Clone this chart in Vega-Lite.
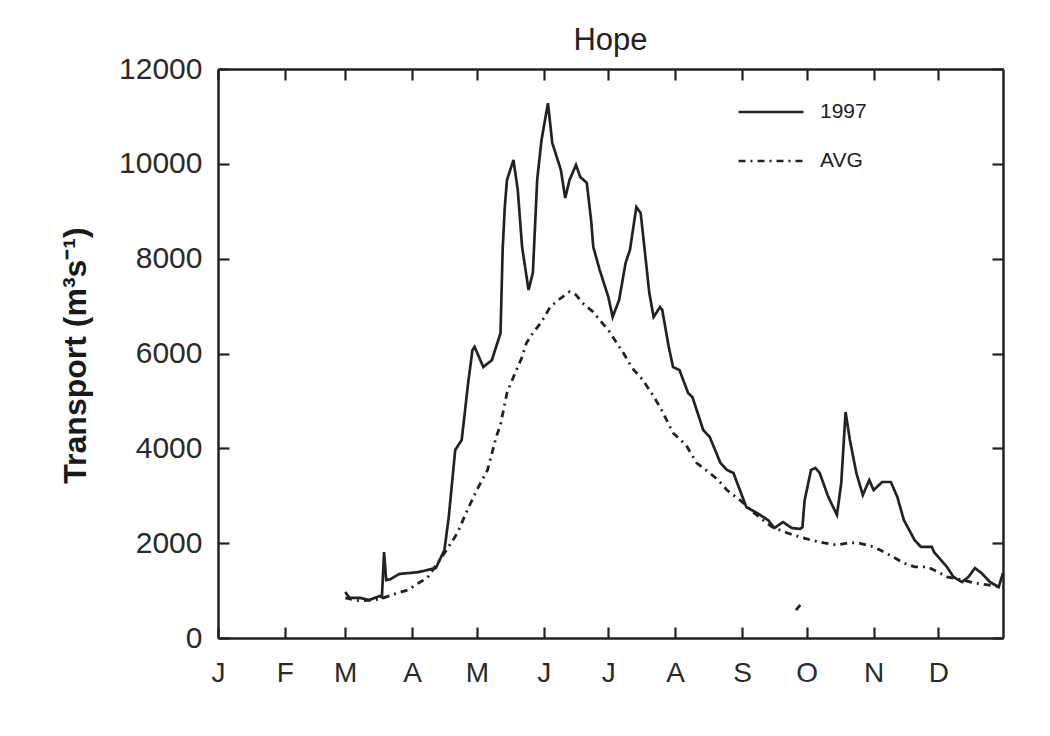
{
  "$schema": "https://vega.github.io/schema/vega-lite/v6.json",
  "autosize": {"type": "none"},
  "padding": {"left": 218, "top": 69, "right": 47, "bottom": 98},
  "width": 785,
  "height": 569,
  "background": "white",
  "title": {
    "text": "Hope",
    "fontSize": 31,
    "fontWeight": "normal",
    "font": "Liberation Sans",
    "color": "#222222",
    "anchor": "middle",
    "offset": -3
  },
  "data": {
    "values": [
      {"series": "1997", "seg": "a", "date": "1997/03/01", "q": 970},
      {"series": "1997", "seg": "a", "date": "1997/03/03", "q": 845},
      {"series": "1997", "seg": "a", "date": "1997/03/08", "q": 845},
      {"series": "1997", "seg": "a", "date": "1997/03/12", "q": 800},
      {"series": "1997", "seg": "a", "date": "1997/03/17", "q": 885},
      {"series": "1997", "seg": "a", "date": "1997/03/18", "q": 860},
      {"series": "1997", "seg": "a", "date": "1997/03/19", "q": 1810},
      {"series": "1997", "seg": "a", "date": "1997/03/20", "q": 1220},
      {"series": "1997", "seg": "a", "date": "1997/03/22", "q": 1240},
      {"series": "1997", "seg": "a", "date": "1997/03/26", "q": 1350},
      {"series": "1997", "seg": "a", "date": "1997/04/04", "q": 1390},
      {"series": "1997", "seg": "a", "date": "1997/04/12", "q": 1475},
      {"series": "1997", "seg": "a", "date": "1997/04/16", "q": 1855},
      {"series": "1997", "seg": "a", "date": "1997/04/18", "q": 2550},
      {"series": "1997", "seg": "a", "date": "1997/04/21", "q": 3965},
      {"series": "1997", "seg": "a", "date": "1997/04/24", "q": 4175},
      {"series": "1997", "seg": "a", "date": "1997/04/27", "q": 5380},
      {"series": "1997", "seg": "a", "date": "1997/04/29", "q": 6075},
      {"series": "1997", "seg": "a", "date": "1997/04/30", "q": 6140},
      {"series": "1997", "seg": "a", "date": "1997/05/04", "q": 5715},
      {"series": "1997", "seg": "a", "date": "1997/05/08", "q": 5860},
      {"series": "1997", "seg": "a", "date": "1997/05/12", "q": 6430},
      {"series": "1997", "seg": "a", "date": "1997/05/13", "q": 8200},
      {"series": "1997", "seg": "a", "date": "1997/05/14", "q": 9100},
      {"series": "1997", "seg": "a", "date": "1997/05/15", "q": 9660},
      {"series": "1997", "seg": "a", "date": "1997/05/18", "q": 10080},
      {"series": "1997", "seg": "a", "date": "1997/05/20", "q": 9450},
      {"series": "1997", "seg": "a", "date": "1997/05/22", "q": 8250},
      {"series": "1997", "seg": "a", "date": "1997/05/25", "q": 7340},
      {"series": "1997", "seg": "a", "date": "1997/05/27", "q": 7700},
      {"series": "1997", "seg": "a", "date": "1997/05/29", "q": 9660},
      {"series": "1997", "seg": "a", "date": "1997/05/31", "q": 10500},
      {"series": "1997", "seg": "a", "date": "1997/06/03", "q": 11280},
      {"series": "1997", "seg": "a", "date": "1997/06/05", "q": 10440},
      {"series": "1997", "seg": "a", "date": "1997/06/09", "q": 9870},
      {"series": "1997", "seg": "a", "date": "1997/06/11", "q": 9280},
      {"series": "1997", "seg": "a", "date": "1997/06/13", "q": 9660},
      {"series": "1997", "seg": "a", "date": "1997/06/16", "q": 9975},
      {"series": "1997", "seg": "a", "date": "1997/06/18", "q": 9720},
      {"series": "1997", "seg": "a", "date": "1997/06/21", "q": 9600},
      {"series": "1997", "seg": "a", "date": "1997/06/23", "q": 8815},
      {"series": "1997", "seg": "a", "date": "1997/06/24", "q": 8250},
      {"series": "1997", "seg": "a", "date": "1997/06/27", "q": 7760},
      {"series": "1997", "seg": "a", "date": "1997/07/01", "q": 7190},
      {"series": "1997", "seg": "a", "date": "1997/07/03", "q": 6770},
      {"series": "1997", "seg": "a", "date": "1997/07/06", "q": 7130},
      {"series": "1997", "seg": "a", "date": "1997/07/09", "q": 7910},
      {"series": "1997", "seg": "a", "date": "1997/07/11", "q": 8180},
      {"series": "1997", "seg": "a", "date": "1997/07/14", "q": 9090},
      {"series": "1997", "seg": "a", "date": "1997/07/16", "q": 8960},
      {"series": "1997", "seg": "a", "date": "1997/07/18", "q": 8120},
      {"series": "1997", "seg": "a", "date": "1997/07/20", "q": 7275},
      {"series": "1997", "seg": "a", "date": "1997/07/22", "q": 6770},
      {"series": "1997", "seg": "a", "date": "1997/07/25", "q": 6980},
      {"series": "1997", "seg": "a", "date": "1997/07/26", "q": 6920},
      {"series": "1997", "seg": "a", "date": "1997/07/29", "q": 6140},
      {"series": "1997", "seg": "a", "date": "1997/07/31", "q": 5715},
      {"series": "1997", "seg": "a", "date": "1997/08/03", "q": 5650},
      {"series": "1997", "seg": "a", "date": "1997/08/07", "q": 5165},
      {"series": "1997", "seg": "a", "date": "1997/08/09", "q": 5080},
      {"series": "1997", "seg": "a", "date": "1997/08/14", "q": 4385},
      {"series": "1997", "seg": "a", "date": "1997/08/17", "q": 4240},
      {"series": "1997", "seg": "a", "date": "1997/08/22", "q": 3690},
      {"series": "1997", "seg": "a", "date": "1997/08/25", "q": 3545},
      {"series": "1997", "seg": "a", "date": "1997/08/28", "q": 3480},
      {"series": "1997", "seg": "a", "date": "1997/08/31", "q": 3120},
      {"series": "1997", "seg": "a", "date": "1997/09/03", "q": 2760},
      {"series": "1997", "seg": "a", "date": "1997/09/08", "q": 2635},
      {"series": "1997", "seg": "a", "date": "1997/09/13", "q": 2490},
      {"series": "1997", "seg": "a", "date": "1997/09/16", "q": 2320},
      {"series": "1997", "seg": "a", "date": "1997/09/20", "q": 2445},
      {"series": "1997", "seg": "a", "date": "1997/09/24", "q": 2320},
      {"series": "1997", "seg": "a", "date": "1997/09/28", "q": 2300},
      {"series": "1997", "seg": "a", "date": "1997/09/29", "q": 2340},
      {"series": "1997", "seg": "a", "date": "1997/09/30", "q": 2900},
      {"series": "1997", "seg": "a", "date": "1997/10/03", "q": 3545},
      {"series": "1997", "seg": "a", "date": "1997/10/05", "q": 3585},
      {"series": "1997", "seg": "a", "date": "1997/10/07", "q": 3480},
      {"series": "1997", "seg": "a", "date": "1997/10/11", "q": 2975},
      {"series": "1997", "seg": "a", "date": "1997/10/15", "q": 2595},
      {"series": "1997", "seg": "a", "date": "1997/10/17", "q": 3270},
      {"series": "1997", "seg": "a", "date": "1997/10/19", "q": 4765},
      {"series": "1997", "seg": "a", "date": "1997/10/21", "q": 4175},
      {"series": "1997", "seg": "a", "date": "1997/10/24", "q": 3480},
      {"series": "1997", "seg": "a", "date": "1997/10/27", "q": 3015},
      {"series": "1997", "seg": "a", "date": "1997/10/30", "q": 3330},
      {"series": "1997", "seg": "a", "date": "1997/11/01", "q": 3120},
      {"series": "1997", "seg": "a", "date": "1997/11/05", "q": 3290},
      {"series": "1997", "seg": "a", "date": "1997/11/09", "q": 3290},
      {"series": "1997", "seg": "a", "date": "1997/11/12", "q": 2975},
      {"series": "1997", "seg": "a", "date": "1997/11/15", "q": 2490},
      {"series": "1997", "seg": "a", "date": "1997/11/20", "q": 2065},
      {"series": "1997", "seg": "a", "date": "1997/11/23", "q": 1920},
      {"series": "1997", "seg": "a", "date": "1997/11/28", "q": 1920},
      {"series": "1997", "seg": "a", "date": "1997/11/29", "q": 1815},
      {"series": "1997", "seg": "a", "date": "1997/12/05", "q": 1500},
      {"series": "1997", "seg": "a", "date": "1997/12/08", "q": 1290},
      {"series": "1997", "seg": "a", "date": "1997/12/12", "q": 1180},
      {"series": "1997", "seg": "a", "date": "1997/12/15", "q": 1290},
      {"series": "1997", "seg": "a", "date": "1997/12/18", "q": 1475},
      {"series": "1997", "seg": "a", "date": "1997/12/21", "q": 1370},
      {"series": "1997", "seg": "a", "date": "1997/12/25", "q": 1180},
      {"series": "1997", "seg": "a", "date": "1997/12/29", "q": 1075},
      {"series": "1997", "seg": "a", "date": "1997/12/31", "q": 1370},

      {"series": "AVG", "seg": "a", "date": "1997/03/01", "q": 845},
      {"series": "AVG", "seg": "a", "date": "1997/03/08", "q": 780},
      {"series": "AVG", "seg": "a", "date": "1997/03/17", "q": 820},
      {"series": "AVG", "seg": "a", "date": "1997/03/24", "q": 930},
      {"series": "AVG", "seg": "a", "date": "1997/03/30", "q": 1010},
      {"series": "AVG", "seg": "a", "date": "1997/04/04", "q": 1160},
      {"series": "AVG", "seg": "a", "date": "1997/04/08", "q": 1265},
      {"series": "AVG", "seg": "a", "date": "1997/04/17", "q": 1855},
      {"series": "AVG", "seg": "a", "date": "1997/04/22", "q": 2215},
      {"series": "AVG", "seg": "a", "date": "1997/04/26", "q": 2635},
      {"series": "AVG", "seg": "a", "date": "1997/05/01", "q": 3120},
      {"series": "AVG", "seg": "a", "date": "1997/05/06", "q": 3545},
      {"series": "AVG", "seg": "a", "date": "1997/05/10", "q": 4240},
      {"series": "AVG", "seg": "a", "date": "1997/05/12", "q": 4500},
      {"series": "AVG", "seg": "a", "date": "1997/05/15", "q": 5170},
      {"series": "AVG", "seg": "a", "date": "1997/05/18", "q": 5505},
      {"series": "AVG", "seg": "a", "date": "1997/05/22", "q": 5925},
      {"series": "AVG", "seg": "a", "date": "1997/05/24", "q": 6220},
      {"series": "AVG", "seg": "a", "date": "1997/05/27", "q": 6430},
      {"series": "AVG", "seg": "a", "date": "1997/05/31", "q": 6665},
      {"series": "AVG", "seg": "a", "date": "1997/06/04", "q": 6980},
      {"series": "AVG", "seg": "a", "date": "1997/06/09", "q": 7170},
      {"series": "AVG", "seg": "a", "date": "1997/06/13", "q": 7300},
      {"series": "AVG", "seg": "a", "date": "1997/06/16", "q": 7235},
      {"series": "AVG", "seg": "a", "date": "1997/06/19", "q": 7065},
      {"series": "AVG", "seg": "a", "date": "1997/06/24", "q": 6875},
      {"series": "AVG", "seg": "a", "date": "1997/06/27", "q": 6705},
      {"series": "AVG", "seg": "a", "date": "1997/07/01", "q": 6495},
      {"series": "AVG", "seg": "a", "date": "1997/07/04", "q": 6285},
      {"series": "AVG", "seg": "a", "date": "1997/07/08", "q": 6010},
      {"series": "AVG", "seg": "a", "date": "1997/07/12", "q": 5695},
      {"series": "AVG", "seg": "a", "date": "1997/07/17", "q": 5440},
      {"series": "AVG", "seg": "a", "date": "1997/07/21", "q": 5165},
      {"series": "AVG", "seg": "a", "date": "1997/07/25", "q": 4870},
      {"series": "AVG", "seg": "a", "date": "1997/07/28", "q": 4600},
      {"series": "AVG", "seg": "a", "date": "1997/07/31", "q": 4325},
      {"series": "AVG", "seg": "a", "date": "1997/08/06", "q": 4070},
      {"series": "AVG", "seg": "a", "date": "1997/08/11", "q": 3690},
      {"series": "AVG", "seg": "a", "date": "1997/08/17", "q": 3480},
      {"series": "AVG", "seg": "a", "date": "1997/08/21", "q": 3330},
      {"series": "AVG", "seg": "a", "date": "1997/08/25", "q": 3120},
      {"series": "AVG", "seg": "a", "date": "1997/08/31", "q": 2910},
      {"series": "AVG", "seg": "a", "date": "1997/09/05", "q": 2700},
      {"series": "AVG", "seg": "a", "date": "1997/09/09", "q": 2550},
      {"series": "AVG", "seg": "a", "date": "1997/09/15", "q": 2340},
      {"series": "AVG", "seg": "a", "date": "1997/09/22", "q": 2215},
      {"series": "AVG", "seg": "a", "date": "1997/09/28", "q": 2130},
      {"series": "AVG", "seg": "a", "date": "1997/10/03", "q": 2065},
      {"series": "AVG", "seg": "a", "date": "1997/10/09", "q": 2005},
      {"series": "AVG", "seg": "a", "date": "1997/10/15", "q": 1960},
      {"series": "AVG", "seg": "a", "date": "1997/10/20", "q": 2005},
      {"series": "AVG", "seg": "a", "date": "1997/10/25", "q": 2005},
      {"series": "AVG", "seg": "a", "date": "1997/11/01", "q": 1920},
      {"series": "AVG", "seg": "a", "date": "1997/11/04", "q": 1855},
      {"series": "AVG", "seg": "a", "date": "1997/11/10", "q": 1710},
      {"series": "AVG", "seg": "a", "date": "1997/11/15", "q": 1580},
      {"series": "AVG", "seg": "a", "date": "1997/11/20", "q": 1500},
      {"series": "AVG", "seg": "a", "date": "1997/11/26", "q": 1500},
      {"series": "AVG", "seg": "a", "date": "1997/12/01", "q": 1390},
      {"series": "AVG", "seg": "a", "date": "1997/12/05", "q": 1290},
      {"series": "AVG", "seg": "a", "date": "1997/12/12", "q": 1225},
      {"series": "AVG", "seg": "a", "date": "1997/12/18", "q": 1160},
      {"series": "AVG", "seg": "a", "date": "1997/12/24", "q": 1120},
      {"series": "AVG", "seg": "a", "date": "1997/12/31", "q": 1075},

      {"series": "AVG", "seg": "b", "date": "1997/09/26", "q": 590},
      {"series": "AVG", "seg": "b", "date": "1997/09/28", "q": 700}
    ]
  },
  "encoding": {
    "x": {
      "field": "date",
      "type": "temporal",
      "scale": {"domain": [{"year": 1997, "month": 1, "date": 1}, {"year": 1997, "month": 12, "date": 31}]},
      "title": null
    },
    "y": {
      "field": "q",
      "type": "quantitative",
      "scale": {"domain": [0, 12000], "nice": false},
      "title": "Transport (m³s⁻¹)"
    },
    "strokeDash": {
      "field": "series",
      "type": "nominal",
      "scale": {"domain": ["1997", "AVG"], "range": [[1, 0], [7, 5, 2, 5]]},
      "legend": {
        "title": null,
        "orient": "none",
        "legendX": 519,
        "legendY": 28,
        "symbolType": "stroke",
        "symbolSize": 4225,
        "symbolStrokeWidth": 2.5,
        "symbolStrokeColor": "#222222",
        "labelFontSize": 21,
        "labelFont": "Liberation Sans",
        "labelColor": "#222222",
        "labelOffset": 15,
        "rowPadding": 19,
        "clipHeight": 30
      }
    },
    "detail": {"field": "seg"}
  },
  "layer": [
    {
      "transform": [{"filter": "datum.series === '1997'"}],
      "mark": {"type": "line", "color": "#222222", "strokeWidth": 2.7},
      "encoding": {
        "x": {
          "field": "date",
          "type": "temporal",
          "title": null,
          "axis": {
            "orient": "bottom",
            "tickCount": {"interval": "month", "step": 1},
            "labelExpr": "slice(timeFormat(datum.value, '%b'), 0, 1)",
            "labelFlush": false,
            "labelOverlap": false,
            "labelFontSize": 28,
            "labelPadding": 32
          }
        },
        "y": {
          "field": "q",
          "type": "quantitative",
          "title": "Transport (m³s⁻¹)",
          "axis": {
            "orient": "left",
            "values": [0, 2000, 4000, 6000, 8000, 10000, 12000],
            "format": "d",
            "labelFlush": false,
            "labelFontSize": 30,
            "labelPadding": 27,
            "titleFontSize": 32,
            "titleFontWeight": "bold",
            "titleX": -143,
            "titleY": 286,
            "titleAlign": "center",
            "titleBaseline": "middle",
            "titleAngle": -90
          }
        }
      }
    },
    {
      "transform": [{"filter": "datum.series === 'AVG'"}],
      "mark": {"type": "line", "color": "#222222", "strokeWidth": 2.8},
      "encoding": {
        "x": {
          "field": "date",
          "type": "temporal",
          "title": null,
          "axis": {
            "orient": "top",
            "tickCount": {"interval": "month", "step": 1},
            "labels": false
          }
        },
        "y": {
          "field": "q",
          "type": "quantitative",
          "title": null,
          "axis": {
            "orient": "right",
            "values": [0, 2000, 4000, 6000, 8000, 10000, 12000],
            "labels": false
          }
        }
      }
    }
  ],
  "resolve": {"axis": {"x": "independent", "y": "independent"}},
  "config": {
    "view": {"stroke": null},
    "axis": {
      "grid": false,
      "domainColor": "#222222",
      "domainWidth": 2.5,
      "tickColor": "#222222",
      "tickWidth": 2.2,
      "tickSize": -11,
      "labelColor": "#2a2a2a",
      "labelFont": "Liberation Sans",
      "titleFont": "Liberation Sans",
      "titleColor": "#1a1a1a"
    }
  }
}
